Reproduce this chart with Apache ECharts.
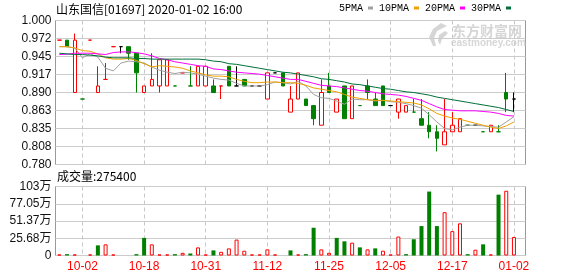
<!DOCTYPE html>
<html><head><meta charset="utf-8">
<script src="https://cdn.jsdelivr.net/npm/echarts@6/dist/echarts.min.js"></script>
<style>html,body{margin:0;padding:0;background:#fff}#c{width:578px;height:276px}</style>
</head><body><div id="c"></div>
<script>
const dates = ['09-26','09-27','09-30','10-02','10-03','10-04','10-08','10-09','10-11','10-15',
 '10-17','10-18','10-21','10-22','10-23','10-24','10-25','10-28','10-30','10-31',
 '11-01','11-04','11-05','11-06','11-07','11-08','11-11','11-12','11-13','11-14',
 '11-15','11-18','11-19','11-20','11-22','11-25','11-26','11-27','11-28','11-29',
 '12-02','12-03','12-04','12-05','12-06','12-09','12-10','12-11','12-12','12-13',
 '12-16','12-17','12-18','12-19','12-20','12-23','12-24','12-27','12-31','01-02',''];
const opens = [0.970,0.970,0.890,0.880,0.970,0.890,0.910,0.960,0.960,0.960,
 0.950,0.890,0.900,0.900,0.900,0.900,0.920,0.900,0.900,0.900,
 0.900,0.900,0.930,0.900,0.910,0.900,0.900,0.880,0.920,0.920,
 0.860,0.880,0.880,0.870,0.840,0.900,0.860,0.900,0.850,0.870,
 0.900,0.880,0.900,0.870,0.860,0.860,0.860,0.850,0.840,0.830,
 0.810,0.830,0.830,0.840,0.840,0.830,0.830,0.830,0.890,0.880];
const closes = [0.970,0.960,0.970,0.880,0.970,0.900,0.910,0.960,0.960,0.950,
 0.920,0.900,0.910,0.940,0.940,0.900,0.920,0.900,0.930,0.930,
 0.890,0.900,0.900,0.900,0.900,0.900,0.900,0.920,0.920,0.900,
 0.880,0.920,0.870,0.850,0.890,0.890,0.880,0.850,0.900,0.870,
 0.890,0.870,0.870,0.870,0.880,0.870,0.860,0.840,0.830,0.820,
 0.830,0.840,0.850,0.840,0.840,0.830,0.840,0.830,0.880,0.880];
const lows = [0.970,0.960,0.890,0.880,0.970,0.890,0.910,0.960,0.950,0.940,
 0.890,0.890,0.900,0.890,0.900,0.900,0.920,0.900,0.900,0.900,
 0.890,0.880,0.900,0.900,0.900,0.900,0.900,0.880,0.920,0.900,
 0.860,0.880,0.870,0.840,0.840,0.890,0.860,0.850,0.850,0.870,
 0.880,0.870,0.870,0.870,0.850,0.860,0.860,0.840,0.820,0.800,
 0.810,0.830,0.830,0.840,0.840,0.830,0.830,0.830,0.860,0.860];
const highs = [0.970,0.970,0.980,0.880,0.970,0.930,0.935,0.960,0.960,0.960,
 0.950,0.900,0.950,0.940,0.940,0.900,0.920,0.930,0.930,0.930,
 0.910,0.900,0.930,0.930,0.910,0.900,0.900,0.920,0.920,0.920,
 0.900,0.920,0.880,0.870,0.910,0.920,0.880,0.900,0.900,0.870,
 0.910,0.890,0.900,0.870,0.880,0.870,0.880,0.880,0.860,0.840,
 0.880,0.860,0.850,0.840,0.840,0.830,0.840,0.840,0.920,0.890];
const volumes = [15000,20000,15000,0,15000,151000,166000,15000,0,0,
 20000,262000,166000,15000,15000,20000,40000,30000,121000,15000,
 76000,55000,106000,237000,71000,15000,15000,91000,15000,0,
 76000,15000,20000,413000,91000,40000,262000,211000,191000,121000,
 91000,106000,71000,15000,282000,20000,242000,438000,952000,438000,
 645000,363000,479000,20000,86000,166000,15000,906000,964000,275400];
const volColors = ['r','g','r','g','r','g','r','r','g','g',
 'g','g','r','r','r','g','r','g','r','r',
 'g','r','r','r','r','r','r','r','r','g',
 'g','r','g','g','r','r','g','g','r','g',
 'r','g','r','r','r','g','g','g','g','g',
 'r','r','r','g','r','g','r','g','r','r'];
const ma5 = [0.960,0.960,0.958,0.943,0.949,0.944,0.927,0.923,0.935,0.938,
 0.937,0.935,0.929,0.924,0.921,0.919,0.921,0.920,0.918,0.915,
 0.912,0.910,0.909,0.904,0.900,0.900,0.900,0.902,0.906,0.905,
 0.903,0.907,0.900,0.887,0.882,0.881,0.877,0.872,0.880,0.879,
 0.879,0.877,0.878,0.876,0.875,0.873,0.870,0.866,0.856,0.845,
 0.835,0.833,0.837,0.840,0.840,0.839,0.838,0.837,0.845,0.853];
const ma10 = [0.960,0.960,0.958,0.954,0.953,0.949,0.943,0.941,0.941,0.942,
 0.939,0.934,0.929,0.931,0.930,0.929,0.927,0.923,0.920,0.917,
 0.915,0.915,0.914,0.910,0.907,0.905,0.905,0.906,0.906,0.905,
 0.905,0.904,0.901,0.897,0.895,0.893,0.891,0.887,0.883,0.881,
 0.879,0.878,0.878,0.877,0.876,0.875,0.874,0.871,0.865,0.858,
 0.854,0.851,0.849,0.846,0.843,0.840,0.837,0.835,0.839,0.845];
const ma20 = [0.948,0.9485,0.950,0.950,0.950,0.949,0.948,0.951,0.952,0.952,
 0.951,0.949,0.946,0.942,0.940,0.937,0.935,0.933,0.931,0.930,
 0.926,0.925,0.923,0.921,0.920,0.919,0.918,0.916,0.914,0.912,
 0.910,0.910,0.907,0.904,0.901,0.900,0.899,0.897,0.895,0.893,
 0.892,0.890,0.888,0.887,0.886,0.884,0.881,0.878,0.873,0.868,
 0.864,0.863,0.862,0.862,0.862,0.861,0.860,0.858,0.855,0.854];
const ma30 = [0.950,0.949,0.948,0.948,0.947,0.946,0.944,0.943,0.943,0.943,
 0.942,0.942,0.941,0.941,0.941,0.941,0.941,0.941,0.941,0.940,
 0.938,0.937,0.934,0.933,0.931,0.929,0.927,0.925,0.923,0.921,
 0.920,0.918,0.916,0.914,0.911,0.910,0.908,0.906,0.903,0.902,
 0.900,0.898,0.896,0.895,0.893,0.891,0.890,0.888,0.886,0.883,
 0.881,0.879,0.877,0.875,0.873,0.871,0.869,0.867,0.864,0.861];
const priceTicks = ['0.780','0.808','0.835','0.863','0.890','0.917','0.945','0.972','1.000'];
const volTicks = ['0','25.68万','51.37万','77.05万','103万'];
const labelIdx = [3,11,19,27,35,43,51,59];

const RED = '#ff0000', GREEN = '#008000', BLACK = '#000000';
const candleData = opens.map((o, i) => {
  const c = closes[i];
  const item = { value: [o, c, lows[i], highs[i]] };
  if (o === c) {
    const prev = i > 0 ? closes[i - 1] : null;
    const col = (prev === null || c > prev) ? RED : (c < prev ? GREEN : BLACK);
    item.itemStyle = { color: col, color0: col, borderColor: col, borderColor0: col, borderColorDoji: col };
  }
  return item;
});
const volData = volumes.map((v, i) => volColors[i] === 'r'
  ? { value: v, itemStyle: { color: '#ffffff', borderColor: RED, borderWidth: 1 } }
  : { value: v, itemStyle: { color: GREEN } });
const showIdx = (idx) => labelIdx.indexOf(idx) >= 0;
const PMIN = 0.78, PMAX = 1.0, PINT = 0.0275;
const VMAX = 1027300, VINT = VMAX / 4;
const maColors = { '5PMA': '#a0a0a0', '10PMA': '#f0a000', '20PMA': '#ff00ff', '30PMA': '#006f3a' };
const maSeries = [['5PMA', ma5], ['10PMA', ma10], ['20PMA', ma20], ['30PMA', ma30]].map(([n, d]) => ({
  name: n, type: 'line', xAxisIndex: 0, yAxisIndex: 0, data: d, symbol: 'none', showSymbol: false,
  lineStyle: { width: 1, color: maColors[n] }, itemStyle: { color: maColors[n] }, z: 3, silent: true
}));
const splitLineX = { show: true, interval: showIdx, alignWithLabel: true, lineStyle: { color: '#c8c8c8', type: [4, 3], width: 1 } };
const labelFont = "'Liberation Sans','Noto Sans CJK SC',sans-serif";

const chart = echarts.init(document.getElementById('c'));
chart.setOption({
  animation: false,
  backgroundColor: '#ffffff',
  title: { text: '山东国信[01697] 2020-01-02 16:00', left: 56, top: 3, padding: 0,
    textStyle: { fontFamily: "'Noto Sans CJK SC',sans-serif", fontSize: 12, fontWeight: 'normal', color: '#000' } },
  legend: { data: ['5PMA', '10PMA', '20PMA', '30PMA'], left: 339, top: 3, padding: 0, itemWidth: 5, itemHeight: 3,
    itemGap: 6, align: 'right', icon: 'rect', selectedMode: false,
    textStyle: { fontFamily: "'Liberation Mono',monospace", fontSize: 10, color: '#000' } },
  grid: [
    { left: 55.5, top: 20.5, width: 470, height: 144, show: true, borderColor: '#999', borderWidth: 1 },
    { left: 55.5, top: 186.5, width: 470, height: 69, show: true, borderColor: '#999', borderWidth: 1 }
  ],
  xAxis: [
    { type: 'category', gridIndex: 0, data: dates, boundaryGap: true, axisLine: { show: false }, axisTick: { show: false },
      axisLabel: { show: false }, splitLine: splitLineX },
    { type: 'category', gridIndex: 1, data: dates, boundaryGap: true, axisLine: { show: false }, axisTick: { show: false },
      axisLabel: { show: true, interval: showIdx, color: RED, fontSize: 12, fontFamily: labelFont, margin: 5 },
      splitLine: splitLineX }
  ],
  yAxis: [
    { type: 'value', gridIndex: 0, min: PMIN, max: PMAX, interval: PINT, axisLine: { show: false }, axisTick: { show: false },
      axisLabel: { color: '#111', fontSize: 12, fontFamily: labelFont, margin: 4,
        formatter: (v) => priceTicks[Math.round((v - PMIN) / PINT)] },
      splitLine: { show: true, lineStyle: { color: '#cccccc', width: 1 } } },
    { type: 'value', gridIndex: 1, min: 0, max: VMAX, interval: VINT, axisLine: { show: false }, axisTick: { show: false },
      axisLabel: { color: '#111', fontSize: 12, fontFamily: labelFont, margin: 4,
        formatter: (v) => volTicks[Math.round(v / VINT)] },
      splitLine: { show: true, lineStyle: { color: '#cccccc', width: 1 } } }
  ],
  graphic: [
    { type: 'polygon', silent: true, shape: { points: [[441,23],[433,29],[429,37],[433,46],[436,46],[434,38],[437,31],[447,26]] },
      style: { fill: '#d6d6d6' } },
    { type: 'polygon', silent: true, shape: { points: [[445,31],[439,35],[438,41],[440,45],[442,39],[448,33]] },
      style: { fill: '#d6d6d6' } },
    { type: 'text', x: 452, y: 24, silent: true,
      style: { text: '东方财富网', fill: '#d6d6d6', font: "bold 14px 'Noto Sans CJK SC'" } },
    { type: 'text', x: 451, y: 38, silent: true,
      style: { text: 'eastmoney.com', fill: '#d6d6d6', font: "bold 10px 'Liberation Sans'" } },
    { type: 'text', x: 57, y: 170, silent: true,
      style: { text: '成交量:' + volumes[volumes.length - 1], fill: '#000', font: "12px 'Noto Sans CJK SC'" } }
  ],
  series: [
    { type: 'candlestick', xAxisIndex: 0, yAxisIndex: 0, data: candleData, barWidth: 4, silent: true,
      itemStyle: { color: '#ffffff', color0: GREEN, borderColor: RED, borderColor0: GREEN, borderColorDoji: BLACK, borderWidth: 1 } },
    ...maSeries,
    { type: 'bar', xAxisIndex: 1, yAxisIndex: 1, data: volData, barWidth: 4, silent: true }
  ]
});
</script></body></html>
